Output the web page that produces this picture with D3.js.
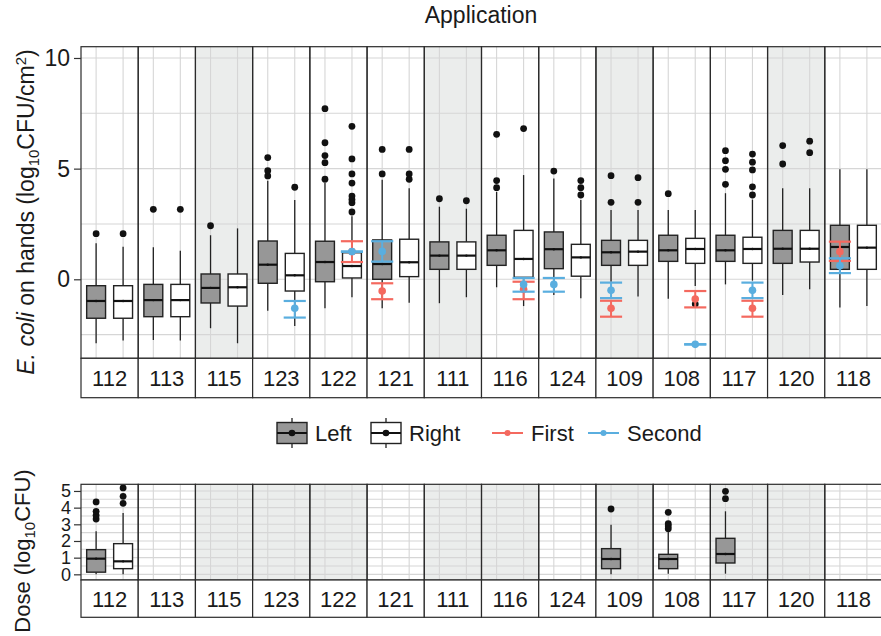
<!DOCTYPE html>
<html><head><meta charset="utf-8">
<script src="https://cdn.jsdelivr.net/npm/d3@7"></script>
<style>
body{margin:0;background:#fff;}
svg text{font-family:"Liberation Sans",Arial,Helvetica,sans-serif;fill:#1a1a1a;}
</style></head>
<body><svg id="chart" width="881" height="636"></svg>
<script>
// ---------- data ----------
const subjects = ['112','113','115','123','122','121','111','116','124','109','108','117','120','118'];
const hands = ['Left','Right'];
const shadedTop = ['115','111','109','120'];
const shadedBottom = ['115','123','122','111','116','109','117','120'];
const topTicks = [0,5,10];
const topMinor = [-2.5,2.5,7.5];
const botTicks = [0,1,2,3,4,5];
const botMinor = [0.5,1.5,2.5,3.5,4.5];

// box stats: [lowWhisker, q1, median, q3, highWhisker]
const leftStats = [
 [-2.89,-1.76,-0.98,-0.29,1.63],[-2.74,-1.69,-0.94,-0.23,1.45],[-2.21,-1.07,-0.39,0.24,1.99],
 [-1.42,-0.18,0.66,1.73,4.45],[-1.31,-0.11,0.78,1.72,4.35],[-1.31,0.0,0.69,1.78,4.5],
 [-1.08,0.45,1.07,1.69,3.28],[-0.36,0.63,1.31,1.99,3.95],[-0.71,0.48,1.36,2.14,4.56],
 [-0.11,0.63,1.22,1.76,3.13],[-0.88,0.81,1.31,1.99,3.13],[-0.23,0.81,1.31,1.99,3.89],
 [-0.71,0.72,1.38,2.21,4.11],[-1.28,0.45,1.46,2.44,4.97]];
const leftOut = [[2.06],[3.16],[2.42],[4.67,4.91,5.5],[4.52,5.27,5.59,6.17,7.71],[4.76,5.87],
 [3.64],[4.14,4.46,6.55],[4.89],[3.48,4.68],[3.87],[4.29,4.97,5.36,5.81],[5.21,6.04],[]];
const rightStats = [
 [-2.77,-1.76,-0.98,-0.29,1.47],[-2.77,-1.69,-0.94,-0.23,1.29],[-2.89,-1.21,-0.36,0.24,2.3],
 [-2.11,-0.53,0.18,1.17,3.58],[-0.81,0.06,0.6,1.2,2.85],[-1.06,0.12,0.77,1.81,4.11],
 [-0.81,0.45,1.07,1.69,3.19],[-1.21,0.09,0.92,2.21,4.71],[-0.86,0.14,0.99,1.58,3.58],
 [-0.78,0.63,1.25,1.76,3.13],[-0.3,0.72,1.37,1.85,3.13],[-0.06,0.72,1.37,1.9,3.6],
 [-0.45,0.78,1.38,2.21,4.11],[-1.21,0.45,1.43,2.44,4.97]];
const rightOut = [[2.06],[3.16],[],[4.16],[3.04,3.46,3.6,3.76,4.35,4.76,5.44,6.91],[4.52,4.76,5.87],
 [3.55],[6.81],[3.81,4.14,4.46],[3.48,4.59],[-1.12],[3.81,4.18,4.94,5.29,5.66],[5.72,6.24],[]];

// error bars (mean, lower, upper)
const firstSubj = ['122','121','116','109','108','117','118'];
const firstHand = ['Right','Left','Right','Left','Right','Right','Left'];
const firstMean = [1.25,-0.53,-0.45,-1.31,-0.89,-1.31,1.25];
const firstLo   = [0.78,-0.9,-0.9,-1.69,-1.27,-1.69,0.83];
const firstHi   = [1.72,-0.18,-0.11,-0.97,-0.53,-0.97,1.7];
const secondSubj = ['123','122','121','116','124','109','108','117','118'];
const secondHand = ['Right','Right','Left','Right','Left','Left','Right','Right','Left'];
const secondMean = [-1.31,1.25,1.26,-0.23,-0.23,-0.5,-2.94,-0.5,0.61];
const secondLo   = [-1.73,1.24,0.8,-0.56,-0.56,-0.85,-2.95,-0.85,0.28];
const secondHi   = [-0.98,1.26,1.72,0.06,0.06,-0.15,-2.93,-0.15,0.95];

// dose panel
const doseSubj = ['112','112','109','108','117'];
const doseHand = ['Left','Right','Left','Left','Left'];
const doseStats = [[0,0.13,0.94,1.48,2.58],[0,0.34,0.78,1.84,3.68],[0,0.34,0.92,1.54,2.98],
 [0.04,0.34,0.92,1.2,2.54],[0.04,0.68,1.22,2.16,3.78]];
const doseOut = [[3.32,3.54,3.78,4.34],[4.26,4.68,5.18],[3.92],[2.74,2.9,3.04,3.72],[4.54,4.98]];

// ---------- style ----------
const colLeft = '#979797', colRight = '#ffffff';
const colFirst = '#F4695F', colSecond = '#5AAEDF';
const shade = '#EBEDEC', grid = '#D6D6D6', border = '#2b2b2b';

const svg = d3.select('#chart');
const xPanel = d3.scaleBand().domain(subjects).range([81, 882]).padding(0);
const xHand = d3.scalePoint().domain(hands).range([0, xPanel.bandwidth()]).padding(0.56);
const step = xHand.step();
const bw = step*0.7, ew = step*0.82;
const yTop = d3.scaleLinear().domain([-3.57, 10.51]).range([358.3, 46.7]);
const yBot = d3.scaleLinear().domain([-0.34, 5.4]).range([580, 484.3]);
const hx = (s,h) => xPanel(s) + xHand(h);

function panelBg(y, shaded, major, minor){
  const [b,t] = y.range();
  subjects.forEach(s=>{
    const x = xPanel(s), w = xPanel.bandwidth();
    svg.append('rect').attr('x',x).attr('y',t).attr('width',w).attr('height',b-t)
      .attr('fill', shaded.includes(s)?shade:'#fff');
    minor.concat(major).forEach(v=>{
      svg.append('line').attr('x1',x).attr('x2',x+w).attr('y1',y(v)).attr('y2',y(v))
        .attr('stroke',grid).attr('stroke-width',1.1);
    });
    hands.forEach(h=>{
      svg.append('line').attr('x1',hx(s,h)).attr('x2',hx(s,h)).attr('y1',t).attr('y2',b)
        .attr('stroke',grid).attr('stroke-width',1.1);
    });
  });
}
function panelBorders(y, stripBottom){
  const [b,t] = y.range();
  subjects.forEach(s=>{
    const x = xPanel(s), w = xPanel.bandwidth();
    svg.append('rect').attr('x',x).attr('y',t).attr('width',w).attr('height',b-t)
      .attr('fill','none').attr('stroke',border).attr('stroke-width',1.2);
    svg.append('rect').attr('x',x).attr('y',b).attr('width',w).attr('height',stripBottom-b)
      .attr('fill','#fff').attr('stroke',border).attr('stroke-width',1.2);
    svg.append('text').attr('x',x+w/2).attr('y',(b+stripBottom)/2+8)
      .attr('text-anchor','middle').attr('font-size',22).text(s);
  });
}
function drawBox(y, cx, st, outs, fill){
  const g = svg.append('g');
  g.append('line').attr('x1',cx).attr('x2',cx).attr('y1',y(st[0])).attr('y2',y(st[1]))
    .attr('stroke','#222').attr('stroke-width',1.3);
  g.append('line').attr('x1',cx).attr('x2',cx).attr('y1',y(st[3])).attr('y2',y(st[4]))
    .attr('stroke','#222').attr('stroke-width',1.3);
  g.append('rect').attr('x',cx-bw/2).attr('width',bw).attr('y',y(st[3])).attr('height',y(st[1])-y(st[3]))
    .attr('fill',fill).attr('stroke','#222').attr('stroke-width',1.4);
  g.append('line').attr('x1',cx-bw/2).attr('x2',cx+bw/2).attr('y1',y(st[2])).attr('y2',y(st[2]))
    .attr('stroke','#111').attr('stroke-width',2.2);
  g.append('circle').attr('cx',cx).attr('cy',y(st[2])).attr('r',1.2).attr('fill','#111');
  outs.forEach(v=>g.append('circle').attr('cx',cx).attr('cy',y(v)).attr('r',3.4).attr('fill','#111'));
}
function drawErr(y, subj, hand, mean, lo, hi, col){
  subj.forEach((s,i)=>{
    const cx = hx(s,hand[i]);
    svg.append('line').attr('x1',cx).attr('x2',cx).attr('y1',y(lo[i])).attr('y2',y(hi[i]))
      .attr('stroke',col).attr('stroke-width',2);
    [lo[i],hi[i]].forEach(v=>svg.append('line').attr('x1',cx-ew/2).attr('x2',cx+ew/2)
      .attr('y1',y(v)).attr('y2',y(v)).attr('stroke',col).attr('stroke-width',2.2));
    svg.append('circle').attr('cx',cx).attr('cy',y(mean[i])).attr('r',3.8).attr('fill',col);
  });
}

// ---------- top panel ----------
panelBg(yTop, shadedTop, topTicks, topMinor);
subjects.forEach((s,i)=>{
  drawBox(yTop, hx(s,'Left'), leftStats[i], leftOut[i], colLeft);
  drawBox(yTop, hx(s,'Right'), rightStats[i], rightOut[i], colRight);
});
drawErr(yTop, firstSubj, firstHand, firstMean, firstLo, firstHi, colFirst);
drawErr(yTop, secondSubj, secondHand, secondMean, secondLo, secondHi, colSecond);
panelBorders(yTop, 397.7);

const axT = svg.append('g').attr('transform','translate(81,0)')
  .call(d3.axisLeft(yTop).tickValues(topTicks).tickSize(7).tickPadding(4).tickFormat(d3.format('d')));
axT.select('.domain').remove();
axT.selectAll('line').attr('stroke','#333').attr('stroke-width',1.2);
axT.selectAll('text').attr('font-size',23).attr('fill','#1a1a1a').attr('font-family','Liberation Sans, Arial, sans-serif');

// ---------- bottom panel ----------
panelBg(yBot, shadedBottom, botTicks, botMinor);
doseSubj.forEach((s,i)=>{
  drawBox(yBot, hx(s,doseHand[i]), doseStats[i], doseOut[i], doseHand[i]==='Left'?colLeft:colRight);
});
panelBorders(yBot, 617.3);
const axB = svg.append('g').attr('transform','translate(81,0)')
  .call(d3.axisLeft(yBot).tickValues(botTicks).tickSize(7).tickPadding(3).tickFormat(d3.format('d')));
axB.select('.domain').remove();
axB.selectAll('line').attr('stroke','#333').attr('stroke-width',1.2);
axB.selectAll('text').attr('font-size',18).attr('fill','#1a1a1a').attr('font-family','Liberation Sans, Arial, sans-serif');

// ---------- titles ----------
svg.append('text').attr('x',481).attr('y',23).attr('text-anchor','middle').attr('font-size',23).text('Application');

const t1 = svg.append('text').attr('transform','translate(34,212) rotate(-90)')
  .attr('text-anchor','middle').attr('font-size',23);
t1.append('tspan').attr('font-style','italic').text('E. coli');
t1.append('tspan').text(' on hands (log');
t1.append('tspan').attr('font-size',15).attr('dy',5).text('10');
t1.append('tspan').attr('dy',-5).text('CFU/cm');
t1.append('tspan').attr('font-size',15).attr('dy',-8).text('2');
t1.append('tspan').attr('dy',8).text(')');

const t2 = svg.append('text').attr('transform','translate(30,551) rotate(-90)')
  .attr('text-anchor','middle').attr('font-size',22);
t2.append('tspan').text('Dose (log');
t2.append('tspan').attr('font-size',15).attr('dy',5).text('10');
t2.append('tspan').attr('dy',-5).text('CFU)');

// ---------- legend ----------
const legY = 433;
[['Left',277,colLeft],['Right',371,colRight]].forEach(([lab,x,f])=>{
  const g = svg.append('g');
  g.append('line').attr('x1',x+15).attr('x2',x+15).attr('y1',legY-15).attr('y2',legY+15).attr('stroke','#222').attr('stroke-width',1.3);
  g.append('rect').attr('x',x).attr('y',legY-10.5).attr('width',30).attr('height',21)
    .attr('fill',f).attr('stroke','#222').attr('stroke-width',1.4);
  g.append('line').attr('x1',x).attr('x2',x+30).attr('y1',legY).attr('y2',legY).attr('stroke','#111').attr('stroke-width',2);
  g.append('circle').attr('cx',x+15).attr('cy',legY).attr('r',3.3).attr('fill','#111');
  g.append('text').attr('x',x+38).attr('y',legY+8).attr('font-size',22).text(lab);
});
[['First',492,colFirst],['Second',588,colSecond]].forEach(([lab,x,c])=>{
  svg.append('line').attr('x1',x).attr('x2',x+31).attr('y1',legY).attr('y2',legY).attr('stroke',c).attr('stroke-width',2);
  svg.append('circle').attr('cx',x+15.5).attr('cy',legY).attr('r',3).attr('fill',c);
  svg.append('text').attr('x',x+39).attr('y',legY+8).attr('font-size',22).text(lab);
});
</script></body></html>
